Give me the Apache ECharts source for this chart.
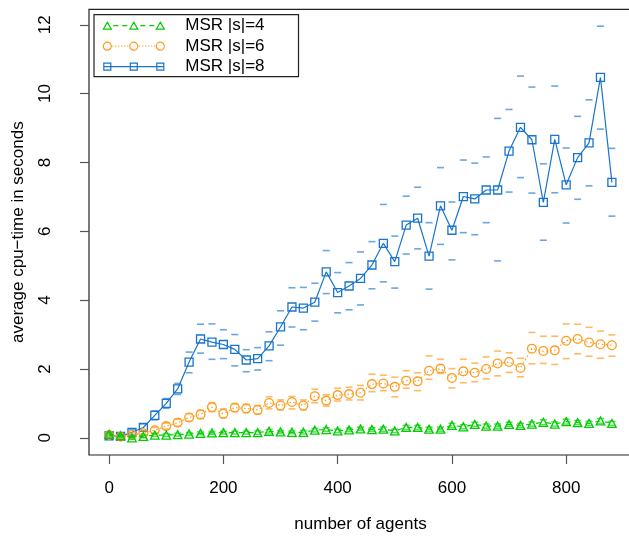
<!DOCTYPE html>
<html>
<head>
<meta charset="utf-8">
<script src="https://cdn.jsdelivr.net/npm/echarts@6/dist/echarts.min.js"></script>
<style>
  html, body { margin: 0; padding: 0; background: #fff; }
  #chart { width: 629px; height: 536px; }
</style>
</head>
<body>
<div id="chart"></div>
<script>
// ---- data ----
const agents = [0,20,40,60,80,100,120,140,160,180,200,220,240,260,280,300,320,340,360,380,400,420,440,460,480,500,520,540,560,580,600,620,640,660,680,700,720,740,760,780,800,820,840,860,880];
const xTicks = [0,200,400,600,800];
const yTicks = [0,2,4,6,8,10,12];
const seriesNames = ['MSR |s|=4', 'MSR |s|=6', 'MSR |s|=8'];

const s4Mean = [0.10,0.06,0.00,0.04,0.08,0.08,0.09,0.11,0.13,0.14,0.15,0.15,0.15,0.15,0.19,0.17,0.16,0.16,0.22,0.24,0.20,0.23,0.26,0.24,0.25,0.20,0.30,0.30,0.25,0.25,0.36,0.32,0.39,0.34,0.34,0.39,0.36,0.40,0.45,0.40,0.47,0.44,0.42,0.49,0.42];
const s4Up   = [0.14,0.10,0.04,0.08,0.12,0.12,0.13,0.15,0.17,0.18,0.19,0.19,0.19,0.20,0.24,0.21,0.20,0.21,0.27,0.29,0.25,0.28,0.31,0.29,0.31,0.25,0.36,0.36,0.31,0.31,0.42,0.38,0.45,0.40,0.40,0.45,0.42,0.46,0.52,0.46,0.54,0.50,0.48,0.56,0.48];
const s4Lo   = [0.06,0.02,-0.04,0.00,0.04,0.04,0.05,0.07,0.09,0.10,0.11,0.11,0.11,0.10,0.14,0.13,0.12,0.11,0.17,0.19,0.15,0.18,0.21,0.19,0.19,0.15,0.24,0.24,0.19,0.19,0.30,0.26,0.33,0.28,0.28,0.33,0.30,0.34,0.38,0.34,0.40,0.38,0.36,0.42,0.36];

const s6Mean = [0.08,0.03,0.08,0.13,0.22,0.34,0.44,0.59,0.68,0.89,0.70,0.88,0.85,0.81,1.01,0.94,1.04,0.94,1.21,1.08,1.24,1.27,1.31,1.56,1.58,1.48,1.66,1.64,1.95,2.01,1.74,1.93,1.89,2.00,2.16,2.20,2.03,2.59,2.52,2.54,2.82,2.87,2.77,2.72,2.69];
const s6Up   = [0.13,0.08,0.14,0.20,0.30,0.43,0.54,0.70,0.80,1.02,0.84,0.98,0.97,0.94,1.19,1.10,1.20,1.10,1.41,1.25,1.44,1.47,1.52,1.85,1.82,1.76,1.95,1.89,2.38,2.28,2.01,2.28,2.17,2.35,2.52,2.47,2.31,3.06,2.95,2.95,3.31,3.30,3.21,3.10,2.99];
const s6Lo   = [0.03,-0.02,0.02,0.06,0.14,0.25,0.34,0.48,0.56,0.76,0.58,0.76,0.73,0.69,0.84,0.81,0.84,0.81,1.02,0.92,1.07,1.10,1.10,1.34,1.37,1.19,1.44,1.37,1.70,1.87,1.45,1.60,1.63,1.71,1.80,1.90,1.77,2.15,2.16,2.13,2.30,2.44,2.37,2.31,2.37];

const s8Mean = [0.06,0.04,0.16,0.30,0.65,1.00,1.42,2.20,2.87,2.78,2.71,2.57,2.26,2.30,2.67,3.22,3.80,3.77,3.94,4.82,4.22,4.41,4.63,5.02,5.65,5.12,6.18,6.38,5.28,6.74,6.03,7.01,6.94,7.20,7.20,8.33,9.02,8.66,6.84,8.67,7.35,8.14,8.57,10.47,7.42];
const s8Up   = [0.12,0.10,0.24,0.40,0.78,1.14,1.58,2.49,3.30,3.31,3.14,3.00,2.56,2.62,3.08,3.69,4.36,4.37,4.49,5.44,4.80,5.09,5.40,5.70,6.78,5.86,7.02,7.28,6.25,7.85,6.85,8.07,7.98,8.16,9.28,9.54,10.51,10.19,7.96,10.22,8.42,9.34,9.82,11.96,8.41];
const s8Lo   = [0.00,-0.02,0.08,0.20,0.52,0.86,1.26,1.89,2.46,2.28,2.30,2.09,1.92,1.97,2.24,2.69,3.22,3.14,3.39,4.19,3.63,3.72,3.86,4.33,4.53,4.35,5.34,5.49,4.32,5.62,5.17,5.96,5.90,6.25,5.14,7.14,7.56,7.11,5.74,7.12,6.24,6.93,7.32,8.97,6.44];

// ---- styles ----
const GREEN = '#00CC00', ORANGE = '#FF9A1A', BLUE = '#1874CD';
const FONT = '"Liberation Sans", Arial, Helvetica, sans-serif';

function pairs(xs, ys) { return xs.map((x, i) => [x, ys[i]]); }

function meanSeries(name, ys, color, symbol, size, lineType, z) {
  return {
    name: name, type: 'line', data: pairs(agents, ys), z: z,
    symbol: symbol, symbolSize: size, showSymbol: true,
    lineStyle: { color: color, width: 1.2, type: lineType },
    itemStyle: { color: 'rgba(0,0,0,0)', borderColor: color, borderWidth: 1.3 },
    emphasis: { disabled: true }, silent: true
  };
}
function barSeries(ys, color, z) {
  return {
    name: 'err', type: 'scatter', data: pairs(agents, ys), z: z,
    symbol: 'rect', symbolSize: [7, 1.6],
    itemStyle: { color: color },
    emphasis: { disabled: true }, silent: true
  };
}

// legend icons (line + three open markers, like R's legend)
const iconSquares = 'path://M0 4.5L61 4.5M0.5 1L7.5 1L7.5 8L0.5 8ZM27 1L34 1L34 8L27 8ZM53.5 1L60.5 1L60.5 8L53.5 8Z';
const iconCircles = 'path://M0 4.5A4 4 0 1 0 8 4.5A4 4 0 1 0 0 4.5ZM26.5 4.5A4 4 0 1 0 34.5 4.5A4 4 0 1 0 26.5 4.5ZM53 4.5A4 4 0 1 0 61 4.5A4 4 0 1 0 53 4.5Z'
  + 'M9 4.5L10 4.5M12 4.5L13 4.5M15 4.5L16 4.5M18 4.5L19 4.5M21 4.5L22 4.5M24 4.5L25 4.5'
  + 'M36 4.5L37 4.5M39 4.5L40 4.5M42 4.5L43 4.5M45 4.5L46 4.5M48 4.5L49 4.5M51 4.5L52 4.5';
const iconTriangles = 'path://M0 8L4 1L8 8ZM26.5 8L30.5 1L34.5 8ZM53 8L57 1L61 8Z'
  + 'M10 4.5L15 4.5M19 4.5L24 4.5M37 4.5L42 4.5M46 4.5L51 4.5';

const chart = echarts.init(document.getElementById('chart'), null, { renderer: 'canvas' });
chart.setOption({
  animation: false,
  backgroundColor: '#fff',
  textStyle: { fontFamily: FONT },
  grid: {
    left: 89, top: 9.3, right: -3, bottom: 81,
    outerBoundsMode: 'none', containLabel: false,
    show: true, borderColor: '#222', borderWidth: 1.2, backgroundColor: 'transparent'
  },
  legend: {
    orient: 'vertical', left: 94, top: 14.7,
    padding: [1, 34, 0, 8.7], itemGap: 0.5,
    itemWidth: 61, itemHeight: 9,
    backgroundColor: '#fff', borderColor: '#222', borderWidth: 1.2,
    textStyle: { fontSize: 17, color: '#000', fontFamily: FONT, lineHeight: 20, padding: [0, 0, 0, 16] },
    selectedMode: false,
    data: [
      { name: seriesNames[0], icon: iconTriangles, itemStyle: { color: 'rgba(0,0,0,0)', borderColor: GREEN, borderWidth: 1.2 } },
      { name: seriesNames[1], icon: iconCircles, itemStyle: { color: 'rgba(0,0,0,0)', borderColor: ORANGE, borderWidth: 1.2 } },
      { name: seriesNames[2], icon: iconSquares, itemStyle: { color: 'rgba(0,0,0,0)', borderColor: BLUE, borderWidth: 1.2 } }
    ]
  },
  xAxis: {
    type: 'value', min: -35.2, max: 915.2,
    name: 'number of agents', nameLocation: 'middle', nameGap: 61,
    nameTextStyle: { fontSize: 17, color: '#000', fontFamily: FONT },
    axisLine: { show: false, onZero: false },
    axisTick: { show: true, customValues: xTicks, length: 9, lineStyle: { color: '#555', width: 1.2 } },
    axisLabel: { customValues: xTicks, fontSize: 17, color: '#000', margin: 25, fontFamily: FONT },
    splitLine: { show: false }
  },
  yAxis: {
    type: 'value', min: -0.5, max: 12.45,
    name: 'average cpu\u2212time in seconds', nameLocation: 'middle', nameGap: 62,
    nameTextStyle: { fontSize: 17, color: '#000', fontFamily: FONT },
    axisLine: { show: false, onZero: false },
    axisTick: { show: true, customValues: yTicks, length: 9, lineStyle: { color: '#555', width: 1.2 } },
    axisLabel: { customValues: yTicks, fontSize: 17, color: '#000', rotate: 90, margin: 35, fontFamily: FONT },
    splitLine: { show: false }
  },
  series: [
    barSeries(s8Up, 'rgba(24,116,205,0.8)', 2),
    barSeries(s8Lo, 'rgba(24,116,205,0.8)', 2),
    meanSeries(seriesNames[2], s8Mean, BLUE, 'rect', 8, 'solid', 3),
    barSeries(s6Up, 'rgba(255,154,26,0.85)', 4),
    barSeries(s6Lo, 'rgba(255,154,26,0.85)', 4),
    meanSeries(seriesNames[1], s6Mean, ORANGE, 'circle', 8.7, [1.5, 2.5], 5),
    barSeries(s4Up, 'rgba(0,204,0,0.8)', 6),
    barSeries(s4Lo, 'rgba(0,204,0,0.8)', 6),
    meanSeries(seriesNames[0], s4Mean, GREEN, 'triangle', [8.5, 8], [5, 5], 7)
  ]
});
</script>
</body>
</html>
